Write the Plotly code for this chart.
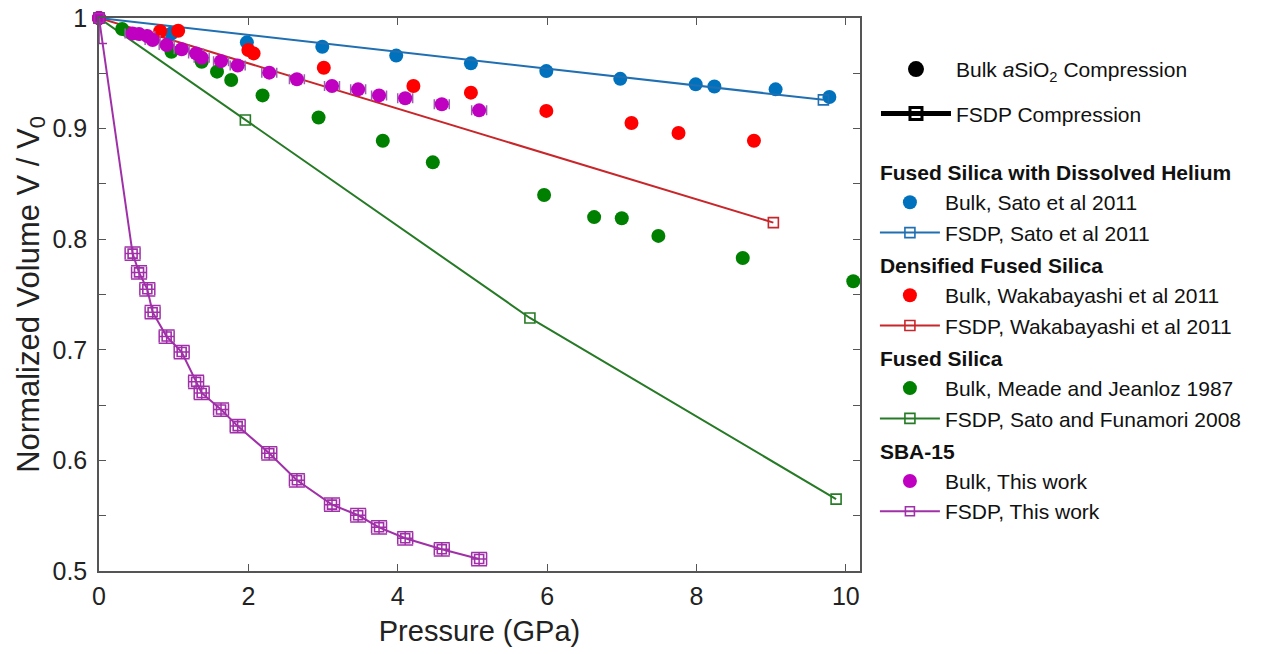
import plotly.graph_objects as go

# ---------------- data ----------------
# Fused silica with dissolved helium (Sato et al 2011)
sato_bulk_p = [0, 0.97, 1.98, 2.99, 3.98, 4.98, 5.99, 6.98, 7.99, 8.24, 9.06, 9.78]
sato_bulk_v = [1.0, 0.986, 0.978, 0.974, 0.966, 0.959, 0.952, 0.945, 0.940, 0.938, 0.9355, 0.9286]
sato_fsdp_p = [0, 9.70]
sato_fsdp_v = [1.0, 0.926]

# Densified fused silica (Wakabayashi et al 2011)
waka_bulk_p = [0, 0.82, 1.06, 2.0, 2.07, 3.01, 4.21, 4.98, 5.99, 7.13, 7.76, 8.77]
waka_bulk_v = [1.0, 0.988, 0.9885, 0.971, 0.968, 0.955, 0.9385, 0.9325, 0.916, 0.905, 0.896, 0.889]
waka_fsdp_p = [0, 9.03]
waka_fsdp_v = [1.0, 0.815]

# Fused silica (Meade and Jeanloz 1987 / Sato and Funamori 2008)
meade_bulk_p = [0, 0.31, 0.97, 1.375, 1.58, 1.77, 2.19, 2.94, 3.80, 4.47, 5.96, 6.63, 7.0, 7.49, 8.62, 10.1]
meade_bulk_v = [1.0, 0.990, 0.9695, 0.9605, 0.9515, 0.944, 0.930, 0.910, 0.889, 0.8695,
                0.840, 0.820, 0.819, 0.803, 0.783, 0.762]
funa_fsdp_p = [0, 1.96, 5.77, 9.87]
funa_fsdp_v = [1.0, 0.9078, 0.7288, 0.565]

# SBA-15 (this work)
sba_p = [0, 0.45, 0.536, 0.647, 0.718, 0.906, 1.107, 1.30, 1.375, 1.634, 1.857,
         2.28, 2.65, 3.12, 3.47, 3.75, 4.10, 4.59, 5.09]
sba_p_err = [0, 0.1, 0.1, 0.1, 0.1, 0.1, 0.1, 0.1, 0.1, 0.1, 0.1,
             0.1, 0.1, 0.1, 0.1, 0.1, 0.1, 0.1, 0.1]
sba_bulk_v = [1.0, 0.986, 0.9855, 0.9837, 0.980, 0.9756, 0.9717, 0.968, 0.964, 0.961, 0.957,
              0.9506, 0.9446, 0.9385, 0.9355, 0.930, 0.9274, 0.922, 0.9165]
sba_fsdp_v = [1.0, 0.787, 0.770, 0.7547, 0.734, 0.712, 0.698, 0.671, 0.661, 0.646, 0.631,
              0.6064, 0.582, 0.560, 0.5504, 0.5395, 0.5296, 0.5196, 0.5108]
sba_fsdp_v_err = [0.023, 0.006, 0.006, 0.006, 0.006, 0.006, 0.006, 0.006, 0.006, 0.006, 0.006,
                  0.006, 0.006, 0.006, 0.006, 0.006, 0.006, 0.006, 0.006]

x_ticks = [0, 2, 4, 6, 8, 10]
y_ticks = [0.5, 0.6, 0.7, 0.8, 0.9, 1.0]
y_ticktext = ["0.5", "0.6", "0.7", "0.8", "0.9", "1"]

# ---------------- styles ----------------
FONT = "Arial, Liberation Sans, sans-serif"
BLUE = "#0072BD"
BLUE_L = "#1f6fb2"
RED = "#FF0000"
RED_L = "#C8262A"
GREEN = "#008000"
GREEN_L = "#267a26"
MAG = "#C000C0"
MAG_L = "#A030A8"
ERR = "#9a62ab"
DOT = 14

fig = go.Figure()

# lines (FSDP)
fig.add_trace(go.Scatter(x=funa_fsdp_p, y=funa_fsdp_v, mode="lines+markers",
                         name="FSDP, Sato and Funamori 2008", legendgroup="fs", legendrank=6,
                         line=dict(color=GREEN_L, width=2),
                         marker=dict(symbol="square-open", size=10, color=GREEN_L, line=dict(width=1.6)),
                         cliponaxis=False))
fig.add_trace(go.Scatter(x=waka_fsdp_p, y=waka_fsdp_v, mode="lines+markers",
                         name="FSDP, Wakabayashi et al 2011", legendgroup="dens", legendrank=4,
                         line=dict(color=RED_L, width=2),
                         marker=dict(symbol="square-open", size=10, color=RED_L, line=dict(width=1.6)),
                         cliponaxis=False))

# bulk points
fig.add_trace(go.Scatter(x=meade_bulk_p, y=meade_bulk_v, mode="markers",
                         name="Bulk, Meade and Jeanloz 1987", legendgroup="fs", legendrank=5,
                         legendgrouptitle=dict(text="Fused Silica"),
                         marker=dict(size=DOT, color=GREEN), cliponaxis=False))
fig.add_trace(go.Scatter(x=sato_bulk_p, y=sato_bulk_v, mode="markers",
                         name="Bulk, Sato et al 2011", legendgroup="he", legendrank=1,
                         legendgrouptitle=dict(text="Fused Silica with Dissolved Helium"),
                         marker=dict(size=DOT, color=BLUE), cliponaxis=False))
fig.add_trace(go.Scatter(x=sato_fsdp_p, y=sato_fsdp_v, mode="lines+markers",
                         name="FSDP, Sato et al 2011", legendgroup="he", legendrank=2,
                         line=dict(color=BLUE_L, width=2),
                         marker=dict(symbol="square-open", size=10, color=BLUE_L, line=dict(width=1.6)),
                         cliponaxis=False))
fig.add_trace(go.Scatter(x=waka_bulk_p, y=waka_bulk_v, mode="markers",
                         name="Bulk, Wakabayashi et al 2011", legendgroup="dens", legendrank=3,
                         legendgrouptitle=dict(text="Densified Fused Silica"),
                         marker=dict(size=DOT, color=RED), cliponaxis=False))
fig.add_trace(go.Scatter(x=sba_p, y=sba_bulk_v, mode="markers",
                         name="Bulk, This work", legendgroup="sba", legendrank=7,
                         legendgrouptitle=dict(text="SBA-15"),
                         error_x=dict(type="data", array=sba_p_err, color=ERR, thickness=1.5, width=5),
                         marker=dict(size=DOT, color=MAG), cliponaxis=False))
fig.add_trace(go.Scatter(x=sba_p, y=sba_fsdp_v, mode="lines+markers",
                         name="FSDP, This work", legendgroup="sba", legendrank=8,
                         line=dict(color=MAG_L, width=2),
                         error_x=dict(type="data", array=sba_p_err, color=MAG_L, thickness=1.5, width=6),
                         error_y=dict(type="data", array=sba_fsdp_v_err, color=MAG_L, thickness=1.5, width=8),
                         marker=dict(symbol="square-open", size=9, color=MAG_L, line=dict(width=1.6)),
                         cliponaxis=False))

# generic legend entries (second legend)
fig.add_trace(go.Scatter(x=[None], y=[None], mode="markers",
                         name="Bulk <i>a</i>SiO<sub>2</sub> Compression", legend="legend2",
                         legendgroup="g1", marker=dict(size=22, color="black")))
fig.add_trace(go.Scatter(x=[None], y=[None], mode="lines+markers",
                         name="FSDP Compression", legend="legend2", legendgroup="g2",
                         line=dict(color="black", width=5),
                         marker=dict(symbol="square-open", size=12, color="black", line=dict(width=3))))

axis_common = dict(showline=True, mirror="ticks", linecolor="#555555", linewidth=1.5,
                   ticks="inside", ticklen=7, tickcolor="#555555", tickwidth=1.2,
                   showgrid=False, zeroline=False, automargin=False,
                   tickfont=dict(family=FONT, size=25, color="#222222"))

fig.update_layout(
    width=1274, height=654,
    margin=dict(l=99, r=414, t=18, b=83),
    paper_bgcolor="white", plot_bgcolor="white",
    font=dict(family=FONT, color="#111111"),
    xaxis=dict(range=[0, 10.19], tickvals=x_ticks, ticklabelstandoff=2,
               title=dict(text="Pressure (GPa)", standoff=12,
                          font=dict(family=FONT, size=29, color="#222222")), **axis_common),
    yaxis=dict(range=[0.5, 1.0], tickvals=y_ticks, ticktext=y_ticktext, ticklabelstandoff=5,
               minor=dict(dtick=0.05, ticks="inside", ticklen=7, tickcolor="#555555", tickwidth=1.2),
               title=dict(text="Normalized Volume V / V<sub>0</sub>", standoff=4,
                          font=dict(family=FONT, size=31, color="#222222")), **axis_common),
    legend=dict(x=1.0196, y=0.758, xanchor="left", yanchor="top",
                font=dict(family=FONT, size=21, color="#111111"),
                grouptitlefont=dict(family=FONT, size=21, color="#111111", weight="bold"),
                tracegroupgap=2, itemwidth=60, bgcolor="rgba(0,0,0,0)",
                traceorder="grouped"),
    legend2=dict(x=1.021, y=0.944, xanchor="left", yanchor="top",
                 font=dict(family=FONT, size=21, color="#111111"),
                 tracegroupgap=14, itemwidth=70, bgcolor="rgba(0,0,0,0)"),
)

fig.write_html("out.html", config={"displayModeBar": False},
               post_script="document.body.style.margin='0px';")
